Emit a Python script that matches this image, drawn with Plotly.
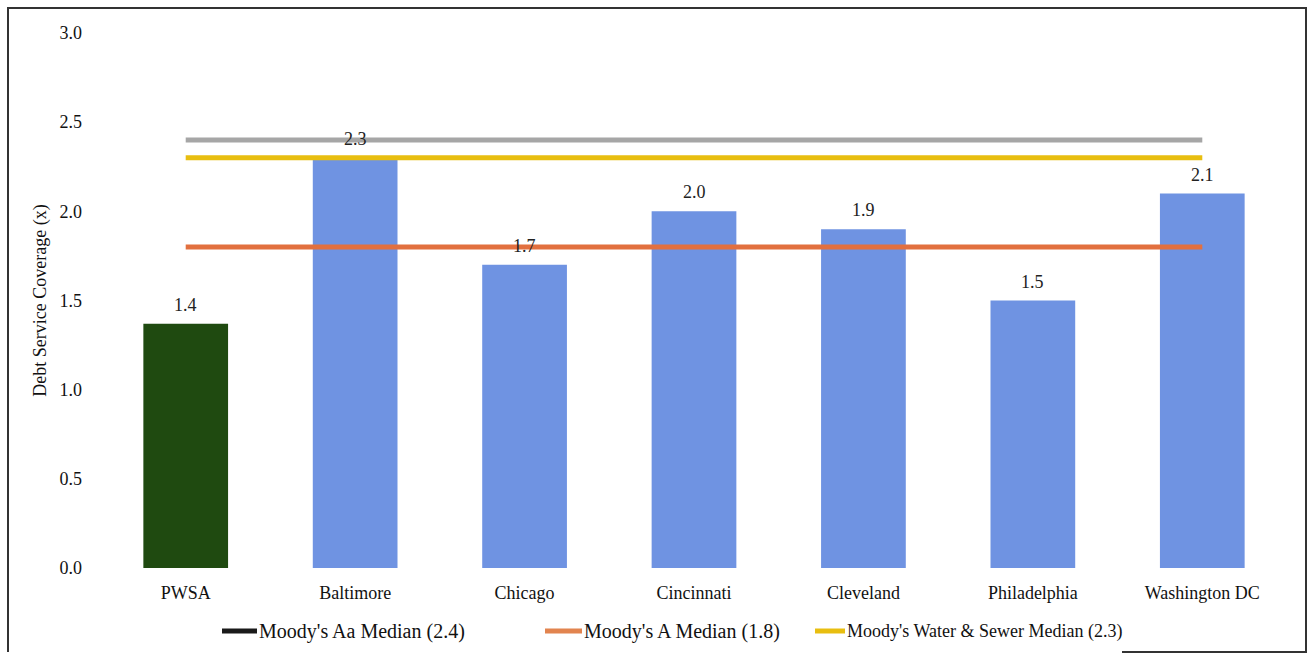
import plotly.graph_objects as go

# Debt service coverage by utility
utilities = ["PWSA", "Baltimore", "Chicago", "Cincinnati", "Cleveland", "Philadelphia", "Washington DC"]
coverage = [1.37, 2.3, 1.7, 2.0, 1.9, 1.5, 2.1]
bar_colors = ["#1F4A10", "#6F93E2", "#6F93E2", "#6F93E2", "#6F93E2", "#6F93E2", "#6F93E2"]

# Rating benchmarks
benchmark_names = ["Moody's Aa Median (2.4)", "Moody's A Median (1.8)", "Moody's Water & Sewer Median (2.3)"]
benchmark_values = [2.4, 1.8, 2.3]
benchmark_line_colors = ["#A6A6A6", "#E2703F", "#E8BE10"]
benchmark_key_colors = ["#1A1A1A", "#E2844F", "#E8BE10"]

serif = "Liberation Serif"

# Plot-area geometry in pixels (used to place the key and frame in paper units)
W, H = 1310, 656
ML, MR, MT, MB = 101, 23, 33, 88
PW, PH = W - ML - MR, H - MT - MB


def px_x(px):
    return (px - ML) / PW


def px_y(py):
    return (H - MB - py) / PH


fig = go.Figure()

fig.add_trace(go.Bar(
    x=utilities, y=coverage,
    marker=dict(color=bar_colors, line=dict(width=0)),
    width=0.5,
    showlegend=False,
))

# Value labels above each bar
for name, val in zip(utilities, coverage):
    fig.add_annotation(
        x=name, y=val, text=f"{val:.1f}", showarrow=False,
        yanchor="bottom", yshift=7,
        font=dict(family=serif, size=18, color="#222222"),
    )

# Benchmark lines drawn across the categories (Aa, Water & Sewer, A)
for idx in [0, 2, 1]:
    fig.add_trace(go.Scatter(
        x=utilities, y=[benchmark_values[idx]] * len(utilities), mode="lines",
        line=dict(color=benchmark_line_colors[idx], width=5),
        name=benchmark_names[idx], showlegend=False, hoverinfo="skip",
    ))

# Key below the axis
key_starts = [222, 545, 815]
key_lengths = [35, 37, 30]
key_sizes = [20, 20, 18]
key_y = px_y(631)
shapes = []
for name, color, x0, ln, fs in zip(benchmark_names, benchmark_key_colors, key_starts, key_lengths, key_sizes):
    shapes.append(dict(
        type="line", xref="paper", yref="paper",
        x0=px_x(x0), x1=px_x(x0 + ln), y0=key_y, y1=key_y,
        line=dict(color=color, width=5),
    ))
    fig.add_annotation(
        xref="paper", yref="paper", x=px_x(x0 + ln), y=key_y,
        xanchor="left", yanchor="middle", showarrow=False,
        text=name, font=dict(family=serif, size=fs, color="#111111"),
    )

# Frame: left, top, right edges and the tail of the bottom edge
frame_color = "#333333"
fx0, fx1 = px_x(8), px_x(1306)
fy0, fy1 = px_y(652), px_y(8)
shapes.append(dict(
    type="path", xref="paper", yref="paper",
    path=f"M {fx0} {fy0} L {fx0} {fy1} L {fx1} {fy1} L {fx1} {fy0} L {px_x(1122)} {fy0}",
    line=dict(color=frame_color, width=2),
))

fig.update_layout(
    width=W, height=H,
    margin=dict(l=ML, r=MR, t=MT, b=MB, autoexpand=False),
    paper_bgcolor="white", plot_bgcolor="white",
    font=dict(family=serif, size=18, color="#111111"),
    bargap=0.5,
    showlegend=False,
    xaxis=dict(
        showgrid=False, showline=False, zeroline=False, ticks="",
        ticklabelstandoff=12,
        tickfont=dict(family=serif, size=18, color="#111111"),
        range=[-0.5, 6.5],
    ),
    yaxis=dict(
        range=[0, 3], dtick=0.5, tickformat=".1f",
        showgrid=False, showline=False, zeroline=False, ticks="",
        ticklabelstandoff=18,
        tickfont=dict(family=serif, size=18, color="#111111"),
        title=dict(text="Debt Service Coverage (x)", standoff=8,
                   font=dict(family=serif, size=18, color="#111111")),
    ),
    shapes=shapes,
)

fig.write_html("out.html")
